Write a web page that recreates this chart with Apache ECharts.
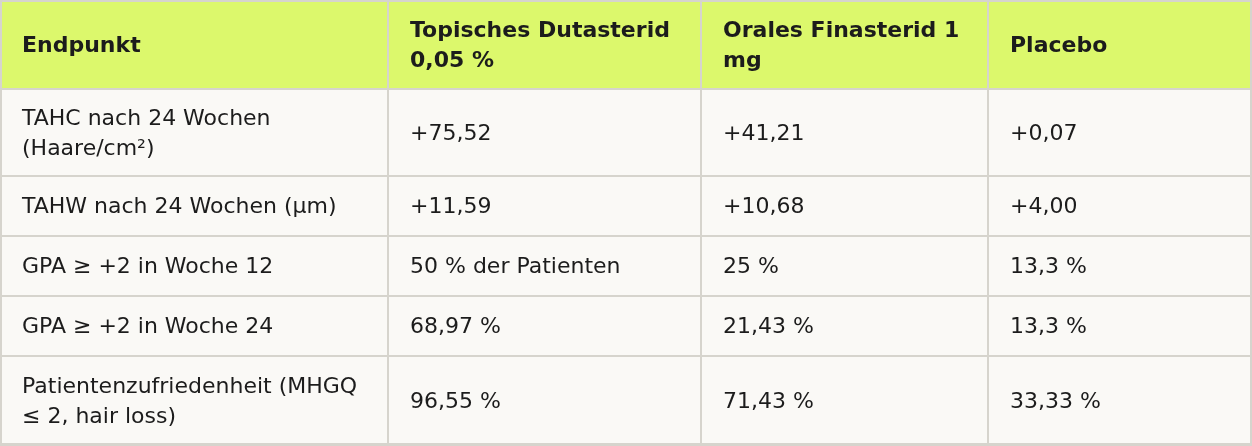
<!DOCTYPE html>
<html>
<head>
<meta charset="utf-8">
<script src="https://cdn.jsdelivr.net/npm/echarts@6/dist/echarts.min.js"></script>
<style>
html,body{margin:0;padding:0;background:#d6d4cd;}
#chart{width:1252px;height:446px;}
</style>
</head>
<body>
<div id="chart"></div>
<script>
// ---- data ----
const headers = ['Endpunkt', 'Topisches Dutasterid 0,05 %', 'Orales Finasterid 1 mg', 'Placebo'];
const endpoints = [
  'TAHC nach 24 Wochen (Haare/cm²)',
  'TAHW nach 24 Wochen (µm)',
  'GPA ≥ +2 in Woche 12',
  'GPA ≥ +2 in Woche 24',
  'Patientenzufriedenheit (MHGQ ≤ 2, hair loss)'
];
const dutasterid = ['+75,52', '+11,59', '50 % der Patienten', '68,97 %', '96,55 %'];
const finasterid = ['+41,21', '+10,68', '25 %', '21,43 %', '71,43 %'];
const placebo = ['+0,07', '+4,00', '13,3 %', '13,3 %', '33,33 %'];

// ---- layout (separate from data) ----
const W = 1252, H = 446;
const colEdges = [0, 388, 701, 988, 1252];
const rowEdges = [0, 89, 176, 236, 296, 356, 445];
const padX = 22;
const headerFill = '#dcf86c';
const bodyFill = '#faf9f6';
const borderColor = '#d6d4cd';
const textColor = '#1c1c1c';
const fontFamily = '"DejaVu Sans", sans-serif';
const fontSize = 22;
const lineH = 30;
const textDy = 1.5;

// wrap at spaces only (like browser word wrapping)
const measureCtx = document.createElement('canvas').getContext('2d');
function wrapWords(text, maxW, weight) {
  measureCtx.font = weight + ' ' + fontSize + 'px "DejaVu Sans"';
  const words = text.split(' ');
  const lines = [];
  let cur = '';
  for (const wd of words) {
    const test = cur ? cur + ' ' + wd : wd;
    if (cur && measureCtx.measureText(test).width > maxW) {
      lines.push(cur);
      cur = wd;
    } else {
      cur = test;
    }
  }
  if (cur) lines.push(cur);
  return lines.join('\n');
}

const columns = [endpoints, dutasterid, finasterid, placebo];
const cells = [];
for (let c = 0; c < columns.length; c++) {
  cells.push([c, 0, headers[c]]);
  for (let r = 0; r < columns[c].length; r++) {
    cells.push([c, r + 1, columns[c][r]]);
  }
}
const nCols = columns.length, nRows = rowEdges.length - 1;

const chart = echarts.init(document.getElementById('chart'));
chart.setOption({
  backgroundColor: borderColor,
  animation: false,
  grid: {left: 0, right: 0, top: 0, bottom: 0},
  xAxis: {type: 'value', min: 0, max: W, show: false},
  yAxis: {type: 'value', min: 0, max: H, inverse: true, show: false},
  series: [{
    type: 'custom',
    coordinateSystem: 'cartesian2d',
    data: cells,
    encode: {x: 0, y: 1},
    renderItem: function (params, api) {
      const c = api.value(0), r = api.value(1);
      const item = cells[params.dataIndex];
      const p0 = api.coord([colEdges[c], rowEdges[r]]);
      const p1 = api.coord([colEdges[c + 1], rowEdges[r + 1]]);
      const x0 = p0[0] + (c === 0 ? 2 : 1);
      const x1 = p1[0] - (c === nCols - 1 ? 2 : 1);
      const y0 = p0[1] + (r === 0 ? 2 : 1);
      const y1 = p1[1] - (r === nRows - 1 ? 2 : 1);
      const isHeader = r === 0;
      const weight = isHeader ? 'bold' : 'normal';
      const maxW = (p1[0] - p0[0]) - 2 * padX;
      return {
        type: 'group',
        children: [{
          type: 'rect',
          shape: {x: x0, y: y0, width: x1 - x0, height: y1 - y0},
          style: {fill: isHeader ? headerFill : bodyFill}
        }, {
          type: 'text',
          style: {
            x: p0[0] + padX,
            y: (p0[1] + p1[1]) / 2 + textDy,
            text: wrapWords(item[2], maxW, weight),
            fill: textColor,
            fontFamily: fontFamily,
            fontSize: fontSize,
            fontWeight: weight,
            lineHeight: lineH,
            align: 'left',
            verticalAlign: 'middle'
          }
        }]
      };
    }
  }]
});
</script>
</body>
</html>
